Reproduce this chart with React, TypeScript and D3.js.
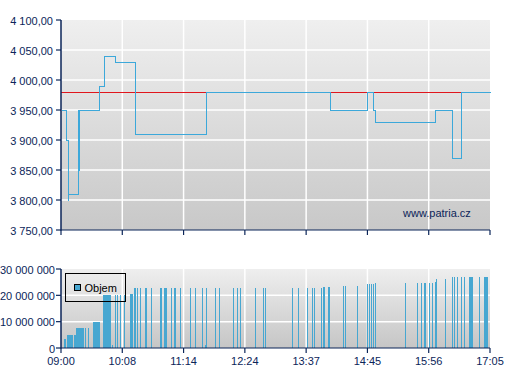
import React from "react";
import * as d3 from "d3";

// ---------- data ----------
const timeTickLabels = ["09:00", "10:08", "11:14", "12:24", "13:37", "14:45", "15:56", "17:05"];
const priceTicks = [3750, 3800, 3850, 3900, 3950, 4000, 4050, 4100];
const volumeTicks = [0, 10000000, 20000000, 30000000];
const referencePrice = 3980;

// step line (value holds from time until next time)
const priceTimes = [
  "09:00", "09:05", "09:08", "09:08", "09:19", "09:20", "09:20", "09:42", "09:48", "10:00",
  "10:22", "11:40", "14:03", "14:44", "14:51", "14:54", "16:03", "16:22", "16:32", "17:05",
];
const priceValues = [
  3950, 3900, 3800, 3810, 3950, 3850, 3950, 3990, 4040, 4030,
  3910, 3980, 3950, 3980, 3950, 3930, 3950, 3870, 3980, 3980,
];

// cumulative volume bars (millions)
const volStart = [
  "09:03", "09:07", "09:14", "09:17", "09:27", "09:30", "09:35", "09:47", "09:57", "10:00",
  "10:02", "10:05", "10:10", "10:16", "10:21", "10:24", "10:27", "10:32", "10:33", "10:39",
  "10:49", "10:53", "11:00", "11:04", "11:10", "11:21", "11:27", "11:35", "11:39", "11:40",
  "11:50", "11:55", "12:10", "12:15", "12:18", "12:36", "12:46", "12:48", "13:20", "13:27",
  "13:38", "13:44", "13:46", "13:53", "13:56", "14:01", "14:18", "14:20", "14:33", "14:44",
  "14:47", "14:49", "14:51", "14:54", "15:28", "15:43", "15:47", "15:50", "15:52", "15:56",
  "16:00", "16:03", "16:04", "16:14", "16:22", "16:24", "16:28", "16:32", "16:36", "16:41",
  "16:43", "16:53", "16:58",
];
const volDuration = [
  2, 6, 3, 8, 1, 1, 8, 9, 1, 1,
  1, 1, 1, 4, 2, 1, 1, 1, 1, 1,
  2, 3, 1, 2, 1, 1, 1, 1, 1, 1,
  1, 1, 1, 1, 1, 1, 1, 1, 1, 1,
  1, 1, 1, 2, 2, 2, 1, 1, 1, 1,
  1, 1, 1, 1, 1, 1, 1, 1, 1, 1,
  1, 1, 1, 1, 1, 1, 1, 1, 1, 1.5,
  3, 1, 5,
];
const volValue = [
  3.5, 5, 5, 7.5, 7.5, 7.5, 10, 20, 1.2, 20,
  20, 20, 20.3, 20.6, 22.8, 22.8, 22.8, 22.8, 22.8, 22.8,
  22.8, 22.8, 22.8, 22.8, 22.8, 22.8, 22.8, 22.8, 1.0, 22.8,
  22.8, 22.8, 22.8, 22.8, 22.8, 22.8, 22.8, 22.8, 22.8, 22.8,
  22.8, 22.8, 22.8, 22.8, 23.2, 23.2, 23.6, 23.6, 23.6, 24.3,
  24.3, 24.3, 24.3, 24.6, 24.7, 24.7, 24.7, 24.7, 24.7, 24.7,
  24.7, 25.0, 26.2, 26.2, 27, 27, 27, 27, 27, 27,
  27, 27, 27,
];

// ---------- helpers ----------
const toMin = (s: string) => {
  const [h, m] = s.split(":").map(Number);
  return h * 60 + m;
};

const W = 507;
const H = 380;
const left = 61;
const right = 490;
const top1 = 20;
const bot1 = 230;
const top2 = 269;
const bot2 = 348;

const FONT = "'Liberation Sans', Arial, sans-serif";
const NAVY = "#0b2559";
const LINE = "#3ca8da";
const BAR = "#47a7d1";
const RED = "#e0161d";

const locale = d3.formatLocale({ decimal: ",", thousands: " ", grouping: [3], currency: ["", ""] });
const fmtPrice = locale.format(",.2f");
const fmtVol = locale.format(",d");

export default function App() {
  const tickMinutes = timeTickLabels.map(toMin);
  const tickPos = tickMinutes.map((_, i) => left + (i * (right - left)) / (tickMinutes.length - 1));
  const x = d3.scaleLinear().domain(tickMinutes).range(tickPos);
  const y = d3.scaleLinear().domain([3750, 4100]).range([bot1, top1]);
  const yv = d3.scaleLinear().domain([0, 30000000]).range([bot2, top2]);

  const pts: [number, number][] = priceTimes.map((t, i) => [x(toMin(t)), y(priceValues[i])]);
  const linePath = d3.line().curve(d3.curveStepAfter)(pts) || "";

  const bars = volStart.map((t, i) => {
    const s = toMin(t);
    const x0 = Math.round(x(s));
    const x1 = Math.round(x(s + volDuration[i]));
    const yy = Math.round(yv(volValue[i] * 1e6));
    return { x: x0, w: Math.max(1, x1 - x0), y: yy, h: bot2 - yy };
  });

  return (
    <svg
      width={W}
      height={H}
      style={{ position: "fixed", left: 0, top: 0, background: "#fff" }}
      fontFamily={FONT}
    >
      <defs>
        <linearGradient id="bg1" x1="0" y1="0" x2="0" y2="1">
          <stop offset="0" stopColor="#efefef" />
          <stop offset="1" stopColor="#c8c8c8" />
        </linearGradient>
        <linearGradient id="bg2" x1="0" y1="0" x2="0" y2="1">
          <stop offset="0" stopColor="#eeeeee" />
          <stop offset="1" stopColor="#c6c6c6" />
        </linearGradient>
      </defs>

      {/* ---- upper chart ---- */}
      <rect x={left} y={top1} width={right - left} height={bot1 - top1} fill="url(#bg1)" />
      {priceTicks.slice(1, -1).map((p) => (
        <line key={p} x1={left} x2={right} y1={y(p)} y2={y(p)} stroke="#fff" strokeWidth={1.5} />
      ))}
      {tickPos.slice(1, -1).map((px, i) => (
        <line key={i} x1={px} x2={px} y1={top1} y2={bot1} stroke="#fff" strokeWidth={1.5} />
      ))}
      <line
        x1={left}
        x2={right}
        y1={y(referencePrice) + 0.5}
        y2={y(referencePrice) + 0.5}
        stroke={RED}
        strokeWidth={1}
        shapeRendering="crispEdges"
      />
      <path
        d={linePath}
        transform="translate(0.5,0.5)"
        fill="none"
        stroke={LINE}
        strokeWidth={1}
        shapeRendering="crispEdges"
      />
      <text x={403} y={217} fontSize={11} fill={NAVY}>www.patria.cz</text>

      {/* axes upper */}
      <line x1={left} x2={left} y1={top1} y2={bot1 + 0.5} stroke={NAVY} strokeWidth={1.5} />
      <line x1={left} x2={right} y1={bot1} y2={bot1} stroke={NAVY} strokeWidth={1.2} />
      {priceTicks.map((p) => (
        <g key={p}>
          <line x1={left - 5} x2={left} y1={y(p)} y2={y(p)} stroke={NAVY} strokeWidth={1.2} />
          <text x={left - 8} y={y(p) + 4.5} fontSize={11} textAnchor="end" fill={NAVY}>
            {fmtPrice(p)}
          </text>
        </g>
      ))}
      {tickPos.map((px, i) => (
        <line key={i} x1={px} x2={px} y1={bot1} y2={bot1 + 5} stroke={NAVY} strokeWidth={1.2} />
      ))}

      {/* ---- lower chart ---- */}
      <rect x={left} y={top2} width={right - left} height={bot2 - top2} fill="url(#bg2)" />
      {volumeTicks.slice(1, -1).map((v) => (
        <line key={v} x1={left} x2={right} y1={yv(v)} y2={yv(v)} stroke="#fff" strokeWidth={1.5} />
      ))}
      {tickPos.slice(1, -1).map((px, i) => (
        <line key={i} x1={px} x2={px} y1={top2} y2={bot2} stroke="#fff" strokeWidth={1.5} />
      ))}
      {bars.map((b, i) => (
        <rect key={i} x={b.x} y={b.y} width={b.w} height={b.h} fill={BAR} shapeRendering="crispEdges" />
      ))}

      {/* legend */}
      <rect x={65.5} y={273.5} width={60} height={28} fill="none" stroke="#000" strokeWidth={1} />
      <rect x={74.5} y={284.5} width={6} height={6} fill={BAR} stroke="#000" strokeWidth={1} />
      <text x={84.5} y={291.5} fontSize={11} fill="#000">Objem</text>

      {/* axes lower */}
      <line x1={left} x2={left} y1={top2} y2={bot2 + 0.5} stroke={NAVY} strokeWidth={1.5} />
      <line x1={left} x2={right} y1={bot2} y2={bot2} stroke={NAVY} strokeWidth={1.2} />
      {volumeTicks.map((v) => (
        <g key={v}>
          <line x1={left - 5} x2={left} y1={yv(v)} y2={yv(v)} stroke={NAVY} strokeWidth={1.2} />
          <text x={left - 6} y={yv(v) + 4.5} fontSize={11} textAnchor="end" fill={NAVY}>
            {fmtVol(v)}
          </text>
        </g>
      ))}
      {tickPos.map((px, i) => (
        <g key={i}>
          <line x1={px} x2={px} y1={bot2} y2={bot2 + 5} stroke={NAVY} strokeWidth={1.2} />
          <text x={px} y={bot2 + 17} fontSize={11} textAnchor="middle" fill={NAVY}>
            {timeTickLabels[i]}
          </text>
        </g>
      ))}
    </svg>
  );
}
